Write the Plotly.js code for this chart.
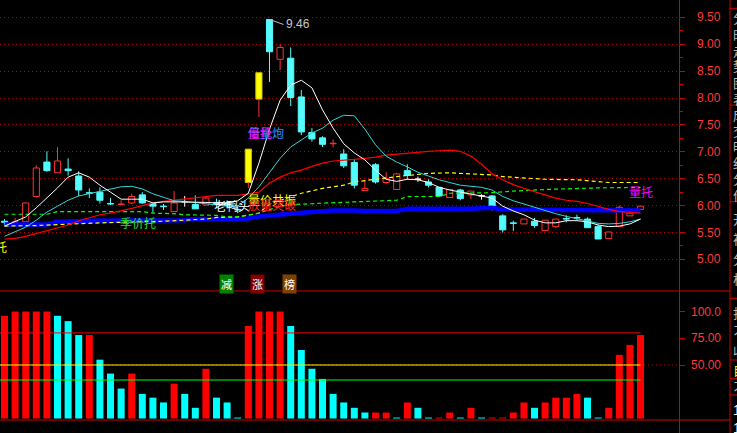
<!DOCTYPE html>
<html><head><meta charset="utf-8">
<script src="https://cdn.plot.ly/plotly-3.0.1.min.js"></script>
<style>html,body{margin:0;padding:0;background:#000;overflow:hidden}#c{width:737px;height:433px}</style>
</head><body><div id="c"></div>
<script>
// ---- daily candles (index 0..60) ----
const openP  = [5.71,5.69,5.70,6.17,6.81,6.61,6.68,6.55,6.24,6.25, 6.04,6.02,6.05,6.20,6.04,5.99,5.89,6.07,6.02,6.01, 6.06,6.05,5.93,6.43,7.98,9.46,8.72,8.74,8.02,7.36, 7.26,7.15,6.96,6.80,6.28,6.76,6.43,6.30,6.65,6.49, 6.44,6.34,6.15,6.29,6.20,6.18,6.18,5.81,5.68,5.66, 5.71,5.54,5.61,5.76,5.78,5.75,5.61,5.39,5.61,5.81,5.93];
const highP  = [5.75,5.77,6.05,6.75,7.01,7.09,6.88,6.64,6.32,6.34, 6.14,6.10,6.22,6.25,6.06,6.03,6.27,6.18,6.19,6.16, 6.13,6.10,6.01,7.05,8.47,9.46,9.00,8.94,8.15,7.44, 7.29,7.23,7.05,6.85,6.46,6.79,6.62,6.61,6.77,6.54, 6.49,6.35,6.30,6.31,6.27,6.21,6.20,5.84,5.72,5.75, 5.77,5.73,5.75,5.82,5.83,5.78,5.65,5.51,6.00,5.86,5.99];
const lowP   = [5.64,5.69,5.70,6.15,6.63,6.61,6.56,6.18,6.14,6.04, 6.01,6.02,6.03,6.03,5.87,5.92,5.89,5.98,5.94,6.01, 5.95,5.96,5.86,6.33,7.65,8.30,8.52,7.85,7.31,7.19, 7.09,7.08,6.70,6.32,6.28,6.41,6.40,6.30,6.48,6.44, 6.34,6.16,6.15,6.10,6.12,6.11,5.91,5.50,5.53,5.66, 5.59,5.54,5.59,5.69,5.72,5.59,5.38,5.39,5.61,5.81,5.93];
const closeP = [5.69,5.70,6.05,6.70,6.65,6.83,6.65,6.29,6.23,6.10, 6.03,6.03,6.17,6.05,5.99,5.98,6.05,6.07,5.94,6.14, 6.04,6.00,5.92,7.05,8.47,8.86,8.94,8.01,7.37,7.24, 7.14,7.16,6.74,6.38,6.32,6.44,6.50,6.59,6.56,6.49, 6.38,6.18,6.30,6.13,6.27,6.18,5.97,5.55,5.67,5.75, 5.63,5.73,5.75,5.75,5.77,5.59,5.38,5.51,5.97,5.86,5.99];
const limitUpDays = [23, 24];

// ---- moving averages ----
const maWhite = [5.62,5.70,5.79,5.96,6.14,6.33,6.53,6.61,6.53,6.38, 6.25,6.12,6.12,6.12,6.05,6.07,6.07,6.07,6.07,6.06, 6.05,6.05,6.09,6.23,6.79,7.42,7.96,8.24,8.33,8.19, 7.78,7.44,7.15,6.98,6.85,6.66,6.49,6.45,6.49,6.48, 6.43,6.34,6.29,6.25,6.22,6.18,6.14,5.99,5.90,5.83, 5.73,5.68,5.68,5.72,5.72,5.70,5.64,5.61,5.62,5.66,5.75];
const maCyan  = [5.43,5.51,5.60,5.73,5.88,5.99,6.10,6.18,6.22,6.27, 6.31,6.35,6.36,6.31,6.22,6.15,6.09,6.08,6.06,6.04, 6.01,5.99,5.99,6.14,6.35,6.61,6.88,7.09,7.22,7.35, 7.44,7.59,7.68,7.67,7.42,7.13,6.92,6.81,6.72,6.62, 6.55,6.48,6.43,6.38,6.36,6.34,6.29,6.17,6.09,6.03, 5.96,5.91,5.85,5.80,5.76,5.71,5.67,5.66,5.67,5.70,5.75];
const maRed   = [5.38,5.39,5.43,5.48,5.53,5.58,5.64,5.72,5.77,5.83, 5.86,5.90,5.95,6.00,6.05,6.08,6.10,6.13,6.15,6.17, 6.19,6.19,6.19,6.22,6.25,6.42,6.53,6.61,6.66,6.73, 6.79,6.83,6.84,6.86,6.88,6.90,6.94,6.96,6.98,7.00, 7.01,7.02,7.03,7.01,6.92,6.77,6.59,6.48,6.39,6.32, 6.26,6.20,6.14,6.10,6.08,6.04,5.98,5.93,5.89,5.87,5.86];
const yellowIdx = [0,3,9,15,19,20,22,24,25,27,28,30,32,33,37,40,42,44,46,47,51,54,56,57,60];
const yellowVal = [5.62,5.63,5.68,5.71,5.75,5.78,5.79,5.86,6.03,6.17,6.23,6.32,6.38,6.44,6.54,6.60,6.61,6.59,6.57,6.54,6.49,6.48,6.44,6.43,6.43];
const greenIdx = [0,4,5,13,14,16,17,20,21,22,24,26,27,30,33,37,38,41,42,46,48,51,54,56,60];
const greenVal = [5.84,5.84,5.89,5.89,5.86,5.85,5.83,5.82,5.79,5.79,5.86,5.99,6.02,6.05,6.07,6.10,6.17,6.17,6.23,6.24,6.27,6.30,6.32,6.33,6.34];
const blueIdx = [0,4,5,7,8,17,18,22,23,24,25,26,27,29,31,33,34,37,38,44,45,46,47,55,56,60];
const blueVal = [5.65,5.65,5.70,5.70,5.72,5.73,5.75,5.75,5.76,5.80,5.81,5.84,5.85,5.88,5.91,5.91,5.90,5.90,5.94,5.94,5.96,5.96,5.93,5.93,5.91,5.91];

// ---- lower indicator panel ----
const indicator = [96,100,100,100,100,96,91,78,78,55, 42,28,42,23,19.5,15,32.6,23,10,46.5, 19.5,15,0.9,86.5,100,100,100,86.5,64,46.5, 37,23,15,10,5.6,5.6,5.6,0.9,15,10, 0.9,0.9,5.6,0.9,10,0.9,0.9,0.9,5.6,15, 10,15,19.5,19.5,23,19.5,0.9,10,59.5,68.8,78];
const indicatorUp = [1,1,1,1,1,0,0,0,1,0, 0,0,1,0,0,0,1,0,0,1, 0,0,0,1,1,1,1,0,0,0, 0,0,0,0,0,1,1,0,1,0, 0,1,1,0,1,0,1,1,1,1, 0,1,1,1,1,0,0,1,1,1,1];
const levelVals = [80, 50, 36];
const levelColors = ['#ff0000', '#ffff00', '#00ff00'];

const priceTicks = [5.0,5.5,6.0,6.5,7.0,7.5,8.0,8.5,9.0,9.5];
const priceTickText = ['5.00','5.50','6.00','6.50','7.00','7.50','8.00','8.50','9.00','9.50'];
const priceMinor = [5.25,5.75,6.25,6.75,7.25,7.75,8.25,8.75,9.25];
const indTicks = [50,75,100];
const indTickText = ['50.00','75.00','100.0'];

const RED = '#ff3232', CYAN = '#54fcfc';
const n = openP.length;
const idx = Array.from({length:n}, (_, i) => i);

// candle bodies and wicks
const bodyBase = [], bodyH = [], bodyFill = [], bodyLine = [];
const wick = {red:{x:[],y:[]}, cyan:{x:[],y:[]}, white:{x:[],y:[]}};
for (let i = 0; i < n; i++) {
  const o = openP[i], c = closeP[i];
  const top = Math.max(o, c), bot = Math.min(o, c);
  bodyBase.push(bot); bodyH.push(Math.max(top - bot, 0.005));
  let w;
  if (limitUpDays.includes(i)) { bodyFill.push('#ffff00'); bodyLine.push('#d8c000'); w = 'red'; }
  else if (c > o) { bodyFill.push('#000000'); bodyLine.push(RED); w = 'red'; }
  else if (c < o) { bodyFill.push(CYAN); bodyLine.push(CYAN); w = 'cyan'; }
  else { bodyFill.push('#ffffff'); bodyLine.push('#ffffff'); w = 'white'; }
  if (highP[i] > top) { wick[w].x.push(i, i, null); wick[w].y.push(top, highP[i], null); }
  if (lowP[i] < bot) { wick[w].x.push(i, i, null); wick[w].y.push(lowP[i], bot, null); }
}

const traces = [];
traces.push({type:'bar', x:idx, y:bodyH, base:bodyBase, width:0.58, xaxis:'x', yaxis:'y',
  marker:{color:bodyFill, line:{color:bodyLine, width:1}}, hoverinfo:'skip'});
traces.push({type:'bar', x:idx, y:indicator, width:0.66, xaxis:'x', yaxis:'y2',
  marker:{color:indicatorUp.map(u => u ? '#ff0000' : '#00ffff'), line:{width:0}}, hoverinfo:'skip'});
const wickColors = {red:RED, cyan:CYAN, white:'#ffffff'};
for (const k of Object.keys(wick)) {
  traces.push({type:'scatter', mode:'lines', x:wick[k].x, y:wick[k].y, xaxis:'x', yaxis:'y',
    line:{color:wickColors[k], width:1}, connectgaps:false, hoverinfo:'skip'});
}
traces.push({type:'scatter', mode:'lines', x:blueIdx, y:blueVal, line:{color:'#0000ff', width:4.5}, hoverinfo:'skip'});
traces.push({type:'scatter', mode:'lines', x:yellowIdx, y:yellowVal, line:{color:'#ffff00', width:1.2, dash:'4px,3px'}, hoverinfo:'skip'});
traces.push({type:'scatter', mode:'lines', x:greenIdx, y:greenVal, line:{color:'#00ff00', width:1.2, dash:'4px,3px'}, hoverinfo:'skip'});
traces.push({type:'scatter', mode:'lines', x:idx, y:maRed, line:{color:'#ff0000', width:1.2}, hoverinfo:'skip'});
traces.push({type:'scatter', mode:'lines', x:idx, y:maCyan, line:{color:'#30d8d8', width:1}, hoverinfo:'skip'});
traces.push({type:'scatter', mode:'lines', x:idx, y:maWhite, line:{color:'#ffffff', width:1}, hoverinfo:'skip'});

// layout helpers (pixel -> paper)
const PW = 679, PH = 433;
const px = v => v / PW, py = v => 1 - v / PH;
const CJK = '"Noto Sans CJK SC", sans-serif';
const NUM = '"Liberation Sans", Arial, sans-serif';
function txt(t, x, y, color, size, extra) {
  return Object.assign({text:t, xref:'paper', yref:'paper', x:px(x), y:py(y), showarrow:false,
    xanchor:'center', yanchor:'middle', font:{family:CJK, size:size||12, color:color}}, extra || {});
}

const annotations = [];
priceTicks.forEach((v, k) => annotations.push({text:priceTickText[k], xref:'paper', yref:'y', x:px(723), y:v,
  xanchor:'right', yanchor:'middle', showarrow:false, font:{family:NUM, size:12, color:'#ff3a3a'}}));
indTicks.forEach((v, k) => annotations.push({text:indTickText[k], xref:'paper', yref:'y2', x:px(723), y:v,
  xanchor:'right', yanchor:'middle', showarrow:false, font:{family:NUM, size:12, color:'#ff3a3a'}}));
// high marker
annotations.push({text:String(highP[25].toFixed(2)), xref:'x', yref:'y', x:25, y:highP[25], showarrow:true,
  arrowhead:0, arrowwidth:1, arrowcolor:'#c0c0c0', ax:14, ay:5, xanchor:'left', yanchor:'middle',
  standoff:0, font:{family:NUM, size:12, color:'#c8c8c8'}});
// signal texts
annotations.push(txt('季价托', 137.5, 222.5, '#1ee01e', 12));
annotations.push(txt('老鸭头', 232, 205, '#ffffff', 12));
annotations.push(txt('量价共振', 271.5, 199.5, '#ffff00', 12));
annotations.push(txt('放量突破', 271.5, 204, '#ff2020', 12));
annotations.push(txt('倍量炮', 265.5, 132.5, '#2a8cff', 12));
annotations.push(txt('量托', 260, 132.5, '#ff00ff', 12));
annotations.push(txt('量托', 640.5, 191.5, '#ff00ff', 12));
annotations.push(txt('托', 1, 247, '#ffff00', 12));
// buttons
annotations.push(txt('减', 226.5, 283.5, '#ffffff', 11, {bgcolor:'#008000', borderpad:1}));
annotations.push(txt('涨', 257.5, 283.5, '#ffffff', 11, {bgcolor:'#800000', borderpad:1}));
annotations.push(txt('榜', 289.5, 283.5, '#ffffff', 11, {bgcolor:'#804000', borderpad:1}));
// side strip (clipped)
const sideChars = ['分','时','走','势','图','表','成','交','明','细','分','价','开','祥','分','析','找','刁','收'];
const sideY = [18,34,50,66,82,98,114,130,146,162,178,194,218,238,258,278,312,330,350];
sideChars.forEach((ch, k) => annotations.push(txt(ch, 737, sideY[k], '#b8b8b8', 13, {xanchor:'left', x:px(731)})));
annotations.push(txt('自', 737, 369, '#ffff00', 13, {xanchor:'left', x:px(731)}));
annotations.push(txt('刁', 737, 386, '#b8b8b8', 13, {xanchor:'left', x:px(731)}));
annotations.push(txt('1', 737, 410, '#ffffff', 14, {xanchor:'left', x:px(731), font:{family:NUM, size:14, color:'#ffffff'}}));
annotations.push(txt('1', 737, 428, '#ffffff', 14, {xanchor:'left', x:px(731), font:{family:NUM, size:14, color:'#ffffff'}}));

const shapes = [];
levelVals.forEach((v, k) => shapes.push({type:'line', xref:'x', yref:'y2', x0:-0.5, x1:n - 1, y0:v, y1:v,
  line:{color:levelColors[k], width:1}}));
shapes.push({type:'line', xref:'paper', yref:'y2', x0:0, x1:1, y0:50, y1:50, layer:'below',
  line:{color:'#c00000', width:1, dash:'1px,3px'}});
shapes.push({type:'line', xref:'paper', yref:'paper', x0:0, x1:px(730), y0:py(291), y1:py(291), line:{color:'#d00000', width:1}});
shapes.push({type:'line', xref:'paper', yref:'paper', x0:0, x1:px(730), y0:py(420), y1:py(420), line:{color:'#d00000', width:1}});
shapes.push({type:'line', xref:'paper', yref:'paper', x0:px(730), x1:px(730), y0:0, y1:1, line:{color:'#d00000', width:1}});
[8.3,105,201.7,298.3,360,378.3,395].forEach(v => shapes.push({type:'line', xref:'paper', yref:'paper',
  x0:px(730), x1:px(737), y0:py(v), y1:py(v), line:{color:'#d00000', width:1}}));

const layout = {
  width:737, height:433, margin:{l:0, r:58, t:0, b:0, pad:0},
  paper_bgcolor:'#000', plot_bgcolor:'#000', showlegend:false, barmode:'overlay',
  xaxis:{range:[-0.425, 63.63], visible:false, fixedrange:true},
  yaxis:{domain:[0.3279, 1], range:[4.413, 9.822], side:'right', anchor:'x', showline:true, linecolor:'#d00000',
    linewidth:1, ticks:'outside', ticklen:5, tickcolor:'#d00000', tickwidth:1, tickmode:'array', tickvals:priceTicks,
    showticklabels:false, showgrid:true, gridcolor:'#b00000', gridwidth:1, griddash:'1px,3px', zeroline:false,
    minor:{tickmode:'array', tickvals:priceMinor, ticks:'outside', ticklen:3, tickcolor:'#d00000', showgrid:false}},
  yaxis2:{domain:[0, 0.3279], range:[-13.55, 119.16], side:'right', anchor:'x', showline:true, linecolor:'#d00000',
    linewidth:1, ticks:'outside', ticklen:5, tickcolor:'#d00000', tickmode:'array', tickvals:indTicks,
    showticklabels:false, showgrid:false, zeroline:false},
  shapes:shapes, annotations:annotations
};
Plotly.newPlot('c', traces, layout, {displayModeBar:false, staticPlot:true});
</script></body></html>
